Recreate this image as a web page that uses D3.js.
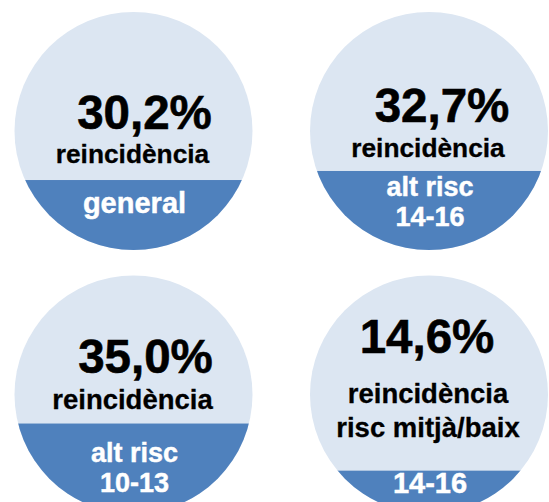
<!DOCTYPE html>
<html>
<head>
<meta charset="utf-8">
<script src="https://cdn.jsdelivr.net/npm/d3@7"></script>
<style>
    html, body { margin: 0; padding: 0; background: #fff; overflow: hidden; }
    svg { display: block; }
</style>
</head>
<body>
<div data-gauges></div>
<script>
// dades
const valors = [30.2, 32.7, 35.0, 14.6]
const textos = [["reincidència"], ["reincidència"], ["reincidència"], ["reincidència", "risc mitjà/baix"]]
const grups = [["general"], ["alt risc", "14-16"], ["alt risc", "10-13"], ["14-16"]]
// nivell de la banda blava (% del diàmetre), llegit de la imatge
const nivells = [29.4, 33.2, 37.8, 18.0]
const columnes = [0, 1, 0, 1]
const files = [0, 0, 1, 1]

// petits ajustos de text per panell (dx del número, dy de cada bloc)
const layout = [
    { dxNum: 11, dyNum: -2, dyText: 32, dyBand: 33 },
    { dxNum: 13, dyNum: -9, dyText: 26, dyBand: 25 },
    { dxNum: 12, dyNum: -22, dyText: 14, dyBand: 38 },
    { dxNum: -2, dyNum: -42, dyText: 8, dyBand: 22 }
]

const width = 549, height = 502, r = 119
const light = "#dce6f2", blue = "#4f81bd"
const font = "'Liberation Sans', Arial, Helvetica, sans-serif"

const svg = d3.select("[data-gauges]").append("svg")
    .attr("width", width)
    .attr("height", height)

const x = d3.scalePoint().domain([0, 1]).range([133.5, 429])
const y = d3.scalePoint().domain([0, 1]).range([131, 394.5])

const data = valors.map((v, i) => ({
    i: i,
    valor: v,
    textos: textos[i],
    grup: grups[i],
    nivell: nivells[i],
    cx: x(columnes[i]),
    cy: y(files[i]),
    l: layout[i]
}))

const fmt = v => d3.format(".1f")(v).replace(".", ",") + "%"

const defs = svg.append("defs")
defs.selectAll("clipPath")
    .data(data)
    .enter()
    .append("clipPath")
    .attr("id", d => "clip" + d.i)
    .append("circle")
    .attr("cx", d => d.cx)
    .attr("cy", d => d.cy)
    .attr("r", r)

const g = svg.selectAll("g.gauge")
    .data(data)
    .enter()
    .append("g")
    .attr("class", "gauge")

g.append("circle")
    .attr("cx", d => d.cx)
    .attr("cy", d => d.cy)
    .attr("r", r)
    .style("fill", light)

g.append("rect")
    .attr("clip-path", d => "url(#clip" + d.i + ")")
    .attr("x", d => d.cx - r)
    .attr("width", 2 * r)
    .attr("y", d => {
        let lvl = d3.scaleLinear().domain([0, 100]).range([d.cy + r, d.cy - r])
        return lvl(d.nivell)
    })
    .attr("height", d => d.nivell / 100 * 2 * r)
    .style("fill", blue)

g.append("text")
    .attr("x", d => d.cx + d.l.dxNum)
    .attr("y", d => d.cy + d.l.dyNum)
    .attr("text-anchor", "middle")
    .style("font-family", font)
    .style("font-weight", "bold")
    .style("font-size", "47.5px")
    .style("fill", "#000")
    .style("stroke", "#000")
    .style("stroke-width", 0.6)
    .text(d => fmt(d.valor))

// text de diverses línies en un sol <text> amb tspans
function lines(sel, arr, x0, y0, step) {
    arr.forEach((t, k) => {
        sel.append("tspan")
            .attr("x", x0)
            .attr("y", y0 + k * step)
            .text(t)
    })
}

g.each(function (d) {
    let sel = d3.select(this)
    let t1 = sel.append("text")
        .attr("text-anchor", "middle")
        .style("font-family", font)
        .style("font-weight", "bold")
        .style("font-size", d.i < 2 ? "26.3px" : "27.5px")
        .style("fill", "#000")
        .style("stroke", "#000")
        .style("stroke-width", 0.3)
    lines(t1, d.textos, d.cx - 1, d.cy + d.l.dyText, 34)

    let top = d.cy + r - d.nivell / 100 * 2 * r
    let t2 = sel.append("text")
        .attr("text-anchor", "middle")
        .style("font-family", font)
        .style("font-weight", "bold")
        .style("font-size", d.grup.length > 1 ? "27px" : "29px")
        .style("fill", "#fff")
        .style("stroke", "#fff")
        .style("stroke-width", 0.45)
    lines(t2, d.grup, d.cx + 1, top + d.l.dyBand, 30.5)
})
</script>
</body>
</html>
